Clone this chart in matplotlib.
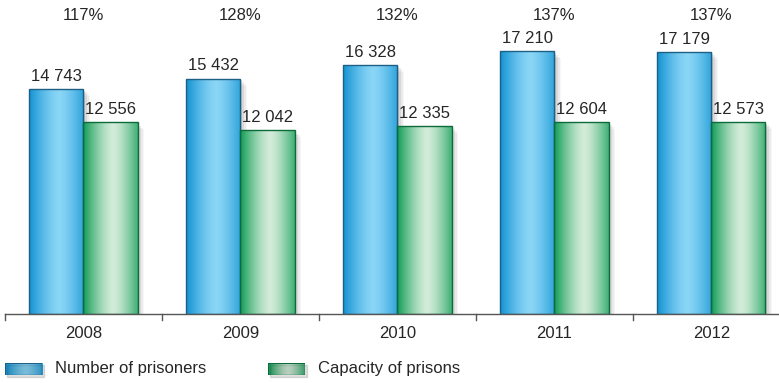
import matplotlib
matplotlib.use("Agg")
import matplotlib.pyplot as plt
import numpy as np
from matplotlib.colors import LinearSegmentedColormap
from matplotlib.patches import Rectangle

years = ["2008", "2009", "2010", "2011", "2012"]
prisoners = [14743, 15432, 16328, 17210, 17179]
capacity = [12556, 12042, 12335, 12604, 12573]
occupancy = ["117%", "128%", "132%", "137%", "137%"]

plt.rcParams['font.family'] = ['Liberation Sans', 'DejaVu Sans']
txt = '#262626'
fs = 12

blue_cm = LinearSegmentedColormap.from_list('b', ['#1192d2', '#8ad6f6'])
green_cm = LinearSegmentedColormap.from_list('g', ['#0e9c54', '#d3ecd9'])

fig = plt.figure(figsize=(7.79, 3.83), dpi=100)
ax = fig.add_axes([5 / 779, 69 / 383, 774 / 779, 314 / 383])
ax.set_xlim(-0.5, 4.43)
ax.set_ylim(0, 20577)
ax.axis('off')

x = np.arange(len(years))
w = 0.344

t = np.linspace(0, 1, 200)
prof = np.clip(1 - np.abs((t - 0.55) / 0.55) ** 1.4, 0, 1)
grad = prof[np.newaxis, :]


def shade(bars, cmap, edge):
    for b in bars:
        x0, h, bw = b.get_x(), b.get_height(), b.get_width()
        # soft shadow on the right
        for k, a in enumerate([0.12, 0.08, 0.05, 0.03]):
            off = 0.011 * (k + 1)
            ax.add_patch(Rectangle((x0 + off, -200), bw, h + 100 - k * 120,
                                   color='black', alpha=a, lw=0, zorder=1))
        im = ax.imshow(grad, extent=[x0, x0 + bw, 0, h], aspect='auto',
                       cmap=cmap, vmin=0, vmax=1, zorder=2)
        im.set_clip_path(b)
        b.set_edgecolor(edge)


b1 = ax.bar(x - w / 2, prisoners, w, facecolor='none', lw=1.0, zorder=3)
b2 = ax.bar(x + w / 2, capacity, w, facecolor='none', lw=1.0, zorder=3)
shade(b1, blue_cm, '#1e5f86')
shade(b2, green_cm, '#0d6b3b')
ax.set_xlim(-0.5, 4.43)
ax.set_ylim(0, 20577)

for i in range(len(years)):
    ax.text(x[i] - w / 2, prisoners[i] + 330, f"{prisoners[i]:,}".replace(',', ' '),
            ha='center', va='bottom', fontsize=fs, color=txt)
    ax.text(x[i] + w / 2, capacity[i] + 330, f"{capacity[i]:,}".replace(',', ' '),
            ha='center', va='bottom', fontsize=fs, color=txt)
    ax.text(x[i], 19594, occupancy[i], ha='center', va='center',
            fontsize=fs, color=txt)
    ax.text(x[i], -1250, years[i], ha='center', va='center',
            fontsize=fs, color=txt)

ax.plot([-0.5, 4.43], [0, 0], color='#555555', lw=1.0, zorder=4, clip_on=False)
for p in np.arange(-0.5, 4.5, 1.0):
    ax.plot([p, p], [0, -420], color='#555555', lw=1.0, clip_on=False)

# legend
def legend_item(px, label, cmap, edge):
    lax = fig.add_axes([px / 779, (383 - 375) / 383, 37 / 779, 12 / 383])
    lax.axis('off')
    lax.add_patch(Rectangle((0.06, -0.15), 1, 1, color='black', alpha=0.12,
                            transform=lax.transAxes, clip_on=False))
    lax.imshow(grad, extent=[0, 1, 0, 1], aspect='auto', cmap=cmap, vmin=0, vmax=1)
    lax.add_patch(Rectangle((0, 0), 1, 1, fill=False, edgecolor=edge, lw=1.0))
    lax.set_xlim(0, 1)
    lax.set_ylim(0, 1)
    fig.text((px + 50) / 779, (383 - 369) / 383, label, ha='left', va='center',
             fontsize=fs, color=txt)


legend_item(5, "Number of prisoners", blue_cm, '#1e5f86')
legend_item(268, "Capacity of prisons", green_cm, '#0d6b3b')

fig.savefig("out.png", dpi=100)
